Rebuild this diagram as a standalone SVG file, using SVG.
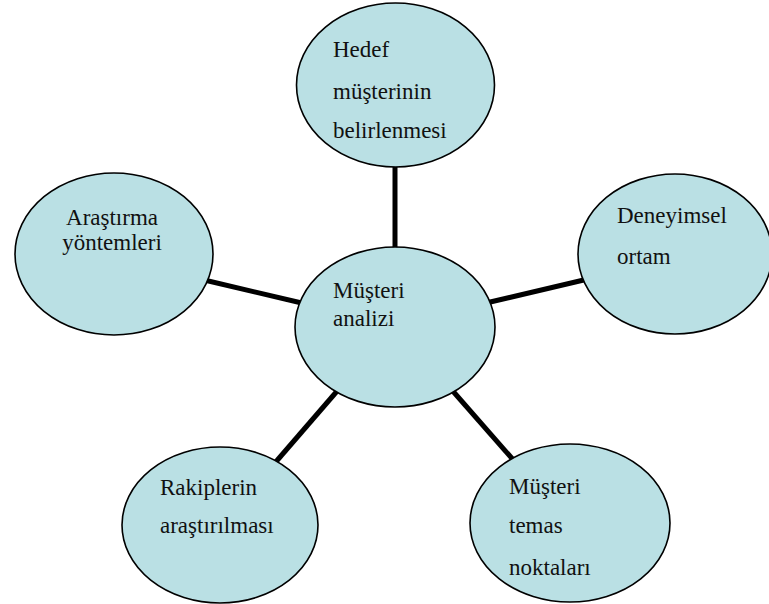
<svg xmlns="http://www.w3.org/2000/svg" width="769" height="604" viewBox="0 0 769 604" font-family="Liberation Serif, DejaVu Serif, serif">
  <style>
    .node ellipse { fill: #bae0e4; stroke: #000; stroke-width: 1.6; }
    .node text { font-size: 23px; fill: #111; }
    .links line { stroke: #000; stroke-width: 5; stroke-linecap: butt; }
  </style>
  <rect width="769" height="604" fill="#fff"/>

  <!-- spokes from the centre -->
  <g id="connectors" class="links">
    <line x1="395" y1="160" x2="395" y2="255"/>
    <line x1="200" y1="279" x2="306" y2="304"/>
    <line x1="486" y1="303" x2="588" y2="279"/>
    <line x1="338" y1="390" x2="274" y2="464"/>
    <line x1="451" y1="389" x2="516" y2="463"/>
  </g>

  <g id="hedef" class="node">
    <ellipse cx="395.5" cy="85" rx="99" ry="82"/>
    <text x="333" y="57">Hedef</text>
    <text x="333" y="99">müşterinin</text>
    <text x="333" y="138">belirlenmesi</text>
  </g>

  <g id="arastirma" class="node">
    <ellipse cx="114" cy="254" rx="99" ry="81"/>
    <text x="112" y="225" text-anchor="middle">Araştırma</text>
    <text x="112" y="250" text-anchor="middle">yöntemleri</text>
  </g>

  <g id="deneyimsel" class="node">
    <ellipse cx="675" cy="254" rx="97" ry="80"/>
    <text x="617" y="223">Deneyimsel</text>
    <text x="617" y="264">ortam</text>
  </g>

  <g id="musteri-analizi" class="node">
    <ellipse cx="395" cy="327" rx="100" ry="80"/>
    <text x="333" y="298">Müşteri</text>
    <text x="333" y="326">analizi</text>
  </g>

  <g id="rakipler" class="node">
    <ellipse cx="220" cy="525" rx="98" ry="78"/>
    <text x="160" y="495">Rakiplerin</text>
    <text x="160" y="533">araştırılması</text>
  </g>

  <g id="temas" class="node">
    <ellipse cx="570" cy="523" rx="100" ry="79"/>
    <text x="509" y="494">Müşteri</text>
    <text x="509" y="533">temas</text>
    <text x="509" y="575">noktaları</text>
  </g>
</svg>
